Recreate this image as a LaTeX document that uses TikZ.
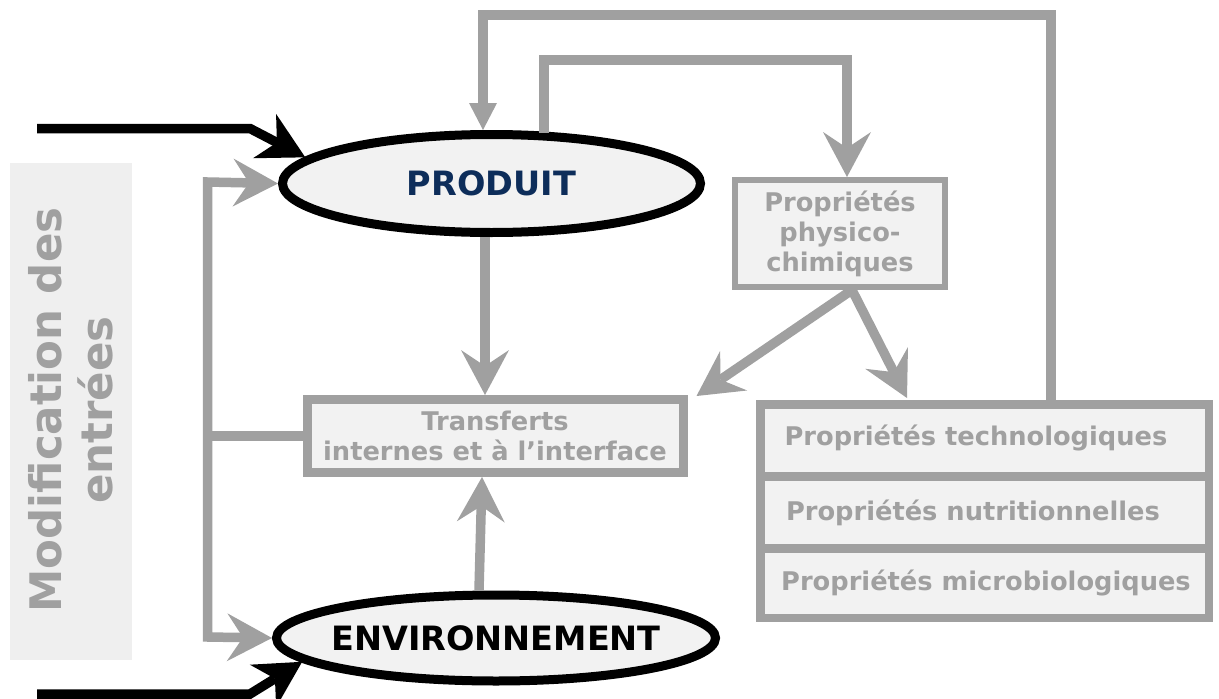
\documentclass[tikz,border=0pt]{standalone}
\usepackage{fontspec}
\setmainfont{DejaVu Sans}
\usetikzlibrary{arrows.meta,shapes.geometric,calc}
\definecolor{lgray}{HTML}{A0A0A0}
\definecolor{tgray}{HTML}{A0A0A0}
\definecolor{boxfill}{HTML}{F2F2F2}
\definecolor{sidefill}{HTML}{EFEFEF}
\definecolor{navy}{HTML}{0D2D5A}
\begin{document}
\begin{tikzpicture}[x=1pt,y=-1pt,line join=miter,
  gline/.style={draw=lgray,line width=9.5pt},
  gtip/.tip={Stealth[length=45pt,width=48pt,inset=16pt,line width=0pt]},
  garrow/.style={gline,-gtip},
  tarrow/.style={draw=lgray,line width=10pt,-{Triangle[length=27pt,width=28pt,line width=0pt]}},
  barrow/.style={draw=black,line width=9.5pt,-{Stealth[length=46pt,width=50pt,inset=14pt,line width=0pt]}},
  ell/.style={ellipse,draw=black,line width=9pt,fill=boxfill,inner sep=0pt},
  gbox/.style={draw=lgray,fill=boxfill,inner sep=0pt,align=center,text=tgray,
    font=\bfseries\fontsize{25.7}{30}\selectfont},
  ptext/.style={text=tgray,inner sep=0pt,font=\bfseries\fontsize{25.7}{30}\selectfont},
]
\useasboundingbox (0,0) rectangle (1219,699);

% side label
\node[fill=sidefill,minimum width=122pt,minimum height=497pt,inner sep=0pt] (sidebg) at (71,411.5) {};
\node[rotate=90,text=tgray,align=center,inner sep=0pt,
  font=\bfseries\fontsize{43.5}{51}\selectfont] (modif) at (71,410) {Modification des\\entrées};

% main nodes
\node[ell,minimum width=418pt,minimum height=98pt] (produit) at (491.5,183.5)
  {\makebox[0pt]{\color{navy}\bfseries\fontsize{33.5}{40}\selectfont PRODUIT}};
\node[ell,minimum width=439pt,minimum height=86pt] (env) at (496,638)
  {\makebox[0pt]{\bfseries\fontsize{33.5}{40}\selectfont ENVIRONNEMENT}};
\node[gbox,line width=9pt,minimum width=376pt,minimum height=73pt] (transf) at (495,436)
  {Transferts\\internes et à l’interface};
\node[gbox,line width=6pt,minimum width=210pt,minimum height=107pt] (phys) at (840,233.5)
  {Propriétés\\physico-\\chimiques};
\node[gbox,line width=8.5pt,minimum width=448.5pt,minimum height=213.5pt] (props) at (984.5,511) {};
\coordinate (d1) at (0,476);
\coordinate (d2) at (0,548);
\draw[gline,line width=9pt] (props.west |- d1) -- (props.east |- d1);
\draw[gline,line width=9pt] (props.west |- d2) -- (props.east |- d2);
\node[ptext] (tech) at (976,438) {Propriétés technologiques};
\node[ptext] (nutr) at (973,513) {Propriétés nutritionnelles};
\node[ptext] (micro) at (986,583) {Propriétés microbiologiques};

% black inputs
\coordinate (inTop) at (37,128.5);
\coordinate (kTop) at (250,128.5);
\coordinate (inBot) at (37,694);
\coordinate (kBot) at (250,694);
\draw[barrow] (inTop) -- (kTop) -- (produit.172);
\draw[barrow] (inBot) -- (kBot) -- (env.187);

% bus on the left
\coordinate (busT) at (207.5,182);
\coordinate (busB) at (207.5,637);
\draw[gline,gtip-gtip] (produit.west) -- (busT) -- (busB) -- (env.west);
\draw[gline] (busT |- transf.west) -- (transf.west);

% vertical flows
\draw[garrow] ($(produit.south)+(-6.5,0)$) -- ($(transf.north)+(-10,0)$);
\draw[garrow] ($(env.north)+(-17,0)$) -- ($(transf.south)+(-13,0)$);

% loops
\coordinate (innerTL) at (544,60);
\coordinate (outerTL) at (483,14.5);
\draw[garrow] ($(produit.north)+(52.5,3)$) -- (innerTL) -| ($(phys.north)+(7,0)$);
\draw[tarrow] ($(props.north)+(66.5,0)$) |- (outerTL) -- ($(produit.north)+(-8.5,0)$);

% from physico-chimiques
\draw[garrow] ($(phys.south)+(12,0)$) -- ($(transf.north east)+(9,1)$);
\draw[garrow] ($(phys.south)+(12,0)$) -- ($(props.north west)+(151,-2)$);
\end{tikzpicture}
\end{document}
